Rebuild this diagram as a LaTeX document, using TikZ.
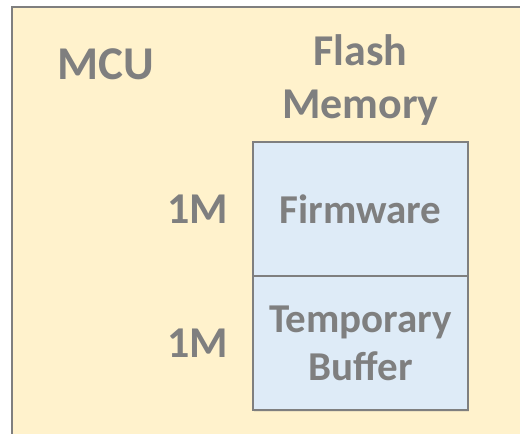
\documentclass[tikz,border=0pt]{standalone}
\usepackage{fontspec}
\setmainfont{Carlito}
\usepackage{xcolor}
\usetikzlibrary{positioning,shadows}
\definecolor{mcugold}{HTML}{FFF2CC}
\definecolor{memblue}{HTML}{DEEBF7}
\definecolor{txtgrey}{HTML}{7F7F7F}
\tikzstyle{region} = [draw=txtgrey, line width=2pt, rectangle, fill=memblue,
    minimum width=215pt, minimum height=134pt, inner sep=0pt, outer sep=0pt,
    align=center, text=txtgrey, font=\fontsize{41}{48}\selectfont\bfseries,
    drop shadow={opacity=0.15, shadow xshift=1pt, shadow yshift=-2pt}]
\tikzstyle{lbl} = [text=txtgrey, inner sep=0pt, align=center,
    font=\fontsize{44}{53}\selectfont\bfseries]
\tikzstyle{title} = [lbl, font=\fontsize{47}{53}\selectfont\bfseries]

\begin{document}
\begin{tikzpicture}[x=1pt,y=-1pt]
		\useasboundingbox (0,0) rectangle (520,434);
		\clip (0,0) rectangle (520,434);
		% MCU background
		\fill[mcugold] (12,7) rectangle (540,450);
		\draw[txtgrey, line width=2pt] (540,7) -- (12,7) -- (12,450);
		
		\node[region] (firmware) at (360.5,209) {Firmware};
		\node[region, below=0pt of firmware] (buffer) {Temporary\\Buffer};
		\node[lbl, left=25pt of firmware] (fwsize) {1M};
		\node[lbl, left=25pt of buffer] (bufsize) {1M};
		\node[lbl, above=16pt of firmware] (flash) {Flash\\Memory};
		\node[title, anchor=base] (mcu) at (106,79) {MCU};
	\end{tikzpicture}
\end{document}
